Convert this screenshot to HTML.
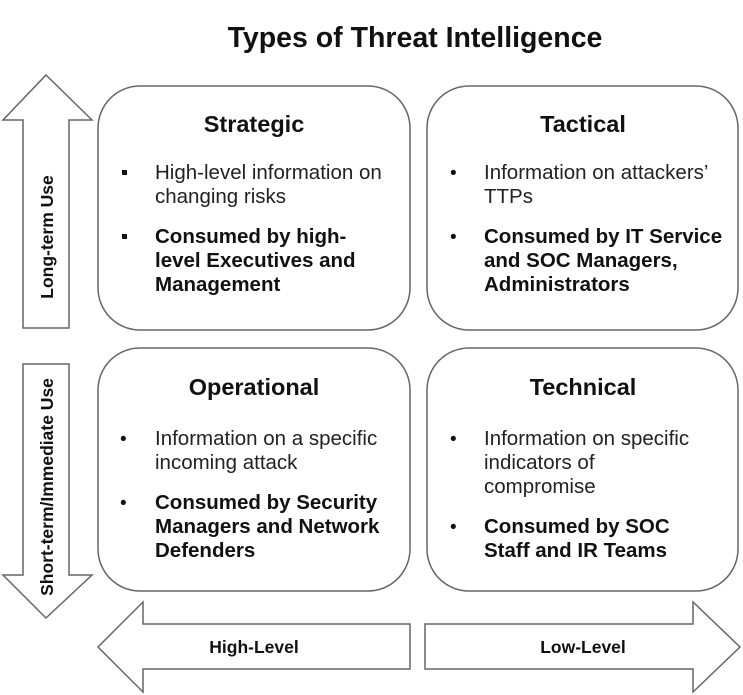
<!DOCTYPE html>
<html><head><meta charset="utf-8"><style>
html,body{margin:0;padding:0;background:#fff;}
svg{display:block;}
text{font-family:"Liberation Sans",Arial,sans-serif;fill:#111;}
.h{font-weight:bold;font-size:23.5px;text-anchor:middle;}
.n{font-size:20.5px;fill:#222;}
.b{font-size:20.5px;font-weight:bold;}
.bl{font-size:19px;}
</style></head><body>
<svg width="743" height="695" viewBox="0 0 743 695" xmlns="http://www.w3.org/2000/svg">
<text x="415" y="47" style="font-weight:bold;font-size:28.5px;text-anchor:middle">Types of Threat Intelligence</text>
<g fill="#fff" stroke="#666" stroke-width="1.5">
<polygon points="46,75 92,120 69,120 69,328 23,328 23,120 3,120"/>
<polygon points="23,364 69,364 69,575 92,575 46,618 3,575 23,575"/>
<polygon points="98,647 143,602 143,624 410,624 410,669 143,669 143,692"/>
<polygon points="425,624 693,624 693,602 740,647 693,692 693,669 425,669"/>
<rect x="98" y="86" width="312" height="244" rx="42"/>
<rect x="427" y="86" width="311" height="244" rx="42"/>
<rect x="98" y="348" width="312" height="243" rx="42"/>
<rect x="427" y="348" width="311" height="243" rx="42"/>
</g>
<text transform="translate(53,237) rotate(-90)" style="font-weight:bold;font-size:17.5px;text-anchor:middle">Long-term Use</text>
<text transform="translate(53,487) rotate(-90)" style="font-weight:bold;font-size:17.5px;text-anchor:middle">Short-term/Immediate Use</text>
<text x="254" y="653" style="font-weight:bold;font-size:17.5px;text-anchor:middle">High-Level</text>
<text x="583" y="653" style="font-weight:bold;font-size:17.5px;text-anchor:middle">Low-Level</text>

<text class="h" x="254" y="132">Strategic</text>
<rect x="122" y="170" width="5" height="5" fill="#111"/>
<text class="n" x="155" y="179">High-level information on</text>
<text class="n" x="155" y="203">changing risks</text>
<rect x="122" y="234" width="5" height="5" fill="#111"/>
<text class="b" x="155" y="243">Consumed by high-</text>
<text class="b" x="155" y="267">level Executives and</text>
<text class="b" x="155" y="291">Management</text>

<text class="h" x="583" y="132">Tactical</text>
<text class="bl" x="450" y="179">•</text>
<text class="n" x="484" y="179">Information on attackers’</text>
<text class="n" x="484" y="203">TTPs</text>
<text class="bl" x="450" y="243">•</text>
<text class="b" x="484" y="243">Consumed by IT Service</text>
<text class="b" x="484" y="267">and SOC Managers,</text>
<text class="b" x="484" y="291">Administrators</text>

<text class="h" x="254" y="395">Operational</text>
<text class="bl" x="120" y="445">•</text>
<text class="n" x="155" y="445">Information on a specific</text>
<text class="n" x="155" y="469">incoming attack</text>
<text class="bl" x="120" y="509">•</text>
<text class="b" x="155" y="509">Consumed by Security</text>
<text class="b" x="155" y="533">Managers and Network</text>
<text class="b" x="155" y="557">Defenders</text>

<text class="h" x="583" y="395">Technical</text>
<text class="bl" x="450" y="445">•</text>
<text class="n" x="484" y="445">Information on specific</text>
<text class="n" x="484" y="469">indicators of</text>
<text class="n" x="484" y="493">compromise</text>
<text class="bl" x="450" y="533">•</text>
<text class="b" x="484" y="533">Consumed by SOC</text>
<text class="b" x="484" y="557">Staff and IR Teams</text>
</svg>
</body></html>
